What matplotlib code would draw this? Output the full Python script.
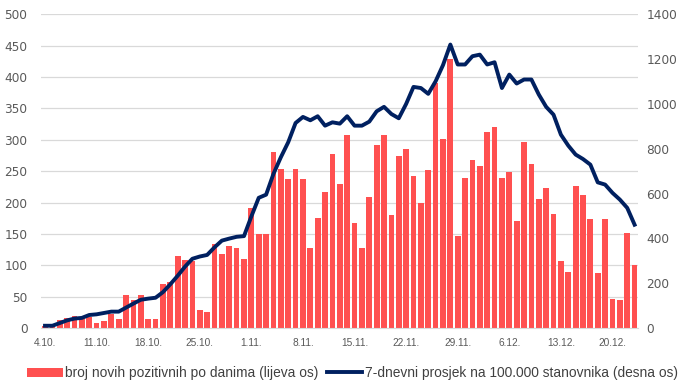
import matplotlib
matplotlib.use("Agg")
import matplotlib.pyplot as plt
import numpy as np

# daily new positives, 4.10. - 23.12.
new_cases = [3, 4, 13, 16, 19, 15, 17, 8, 11, 23, 14, 52, 45, 52, 14, 14,
             70, 74, 115, 109, 106, 28, 25, 134, 118, 130, 127, 110,
             191, 150, 150, 281, 253, 238, 253, 238, 128, 176, 217, 278,
             230, 308, 168, 128, 208, 292, 308, 180, 274, 286, 243, 199,
             252, 390, 301, 429, 147, 239, 268, 258, 313, 320, 239, 248,
             171, 297, 261, 206, 223, 182, 107, 90, 227, 212, 174, 87,
             173, 47, 45, 152, 101]

# 7-day average per 100.000 inhabitants (right axis)
avg7 = [10, 10, 22, 34, 42, 45, 58, 61, 67, 73, 73, 91, 109, 126, 131, 135,
        160, 195, 233, 274, 309, 319, 326, 360, 390, 399, 407, 410,
        498, 581, 595, 688, 762, 829, 915, 942, 927, 945, 903, 918,
        912, 945, 903, 903, 921, 967, 987, 955, 936, 1000, 1076, 1071,
        1045, 1101, 1173, 1265, 1176, 1176, 1213, 1220, 1176, 1186, 1071, 1131,
        1091, 1109, 1109, 1042, 987, 952, 863, 814, 774, 754, 729, 650,
        640, 603, 573, 536, 461]

tick_pos = [0, 7, 14, 21, 28, 35, 42, 49, 56, 63, 70, 77]
tick_labels = ['4.10.', '11.10.', '18.10.', '25.10.', '1.11.', '8.11.',
               '15.11.', '22.11.', '29.11.', '6.12.', '13.12.', '20.12.']

plt.rcParams['font.family'] = ['Liberation Sans', 'DejaVu Sans']

bar_col = '#FF5050'
line_col = '#002060'
txt_col = '#595959'

fig = plt.figure(figsize=(6.91, 3.92), dpi=100)
ax = fig.add_axes([0.0598, 0.1633, 0.8639, 0.8002])
ax2 = ax.twinx()

x = np.arange(len(new_cases))
b = ax.bar(x, new_cases, width=0.78, color=bar_col, zorder=2,
           label='broj novih pozitivnih po danima (lijeva os)')
l, = ax2.plot(x, avg7, color=line_col, lw=2.8, solid_joinstyle='round',
              label='7-dnevni prosjek na 100.000 stanovnika (desna os)')

ax.set_xlim(-0.5, len(new_cases) - 0.5)
ax.set_ylim(0, 500)
ax.set_yticks(np.arange(0, 501, 50))
ax2.set_ylim(0, 1400)
ax2.set_yticks(np.arange(0, 1401, 200))

ax.set_xticks(tick_pos)
ax.set_xticklabels(tick_labels)
ax.grid(axis='y', color='#D9D9D9', lw=0.9, zorder=0)
ax.set_axisbelow(True)

for a in (ax, ax2):
    for s in a.spines.values():
        s.set_visible(False)
ax.spines['bottom'].set_visible(True)
ax.spines['bottom'].set_color('#D9D9D9')

ax.tick_params(axis='y', length=0, pad=10, labelcolor=txt_col)
ax2.tick_params(axis='y', length=0, pad=6, labelcolor=txt_col)
ax.tick_params(axis='x', length=0, pad=7, labelsize=7.3, labelcolor=txt_col)
for t in ax.get_yticklabels() + ax2.get_yticklabels():
    t.set_family(['DejaVu Sans'])
    t.set_fontsize(8.7)

fig.legend([b, l], [b.get_label(), l.get_label()], loc='center',
           bbox_to_anchor=(0.51, 0.048), ncol=2, frameon=False,
           fontsize=9.9, labelcolor='#404040', handlelength=2.6,
           handleheight=0.7, handletextpad=0.15, columnspacing=0.6)

fig.savefig('out.png', dpi=100)
